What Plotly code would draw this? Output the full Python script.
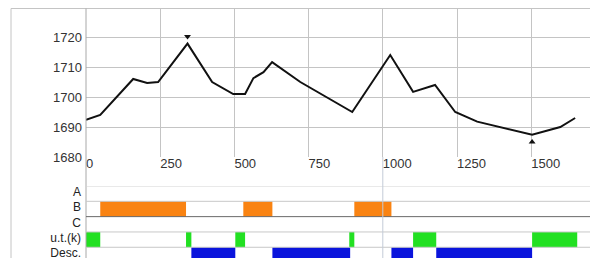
import plotly.graph_objects as go

# ---- data ----
dist = [0, 48, 159, 206, 243, 342, 425, 459, 496, 536, 564, 598, 627, 722,
        897, 1025, 1102, 1176, 1244, 1318, 1406, 1503, 1598, 1648]
elev = [1692.4, 1694, 1706, 1704.7, 1705, 1717.8, 1705, 1703, 1701, 1701,
        1706.3, 1708.3, 1711.6, 1705, 1695, 1714, 1701.7, 1704, 1695,
        1691.8, 1689.8, 1687.4, 1690, 1693]

x_ticks = [0, 250, 500, 750, 1000, 1250, 1500]
y_ticks = [1680, 1690, 1700, 1710, 1720]

row_labels = ["A", "B", "C", "u.t.(k)", "Desc."]
row_pos = [4, 3, 2, 1, 0]

b_start = [48, 530, 904]
b_end = [337, 628, 1029]
ut_start = [0, 337, 503, 887, 1102, 1503]
ut_end = [48, 355, 536, 904, 1180, 1655]
desc_start = [355, 628, 1029, 1180]
desc_end = [503, 890, 1102, 1503]

cursor_x = 1000

# ---- layout constants (page body has an 8px margin) ----
OFF = 8
W, H = 598 - OFF, 258 - OFF
FONT = "Liberation Sans, Arial, sans-serif"


def px_x(X):
    return (X - OFF) / W


def px_y(Y):
    return (H - (Y - OFF)) / H


x_left = px_x(86)
prof_dom = [px_y(157), px_y(8.5)]
band_dom = [0, px_y(186)]
x_range = [0, 1725]
marker_gap = 2.4

fig = go.Figure()

# elevation profile
fig.add_trace(go.Scatter(x=dist, y=elev, mode="lines",
                         line=dict(color="#111111", width=2),
                         xaxis="x", yaxis="y", hoverinfo="skip"))
i_max = elev.index(max(elev))
i_min = elev.index(min(elev))
fig.add_trace(go.Scatter(x=[dist[i_max]], y=[elev[i_max] + marker_gap], mode="markers",
                         marker=dict(symbol="triangle-down", size=6, color="#111111"),
                         xaxis="x", yaxis="y"))
fig.add_trace(go.Scatter(x=[dist[i_min]], y=[elev[i_min] - marker_gap], mode="markers",
                         marker=dict(symbol="triangle-up", size=6, color="#111111"),
                         xaxis="x", yaxis="y"))


def band(starts, ends, row, color):
    fig.add_trace(go.Bar(x=[e - s for s, e in zip(starts, ends)], base=starts,
                         y=[row] * len(starts), orientation="h", width=1,
                         marker=dict(color=color, line=dict(width=0)),
                         xaxis="x2", yaxis="y2"))


band(b_start, b_end, 3, "#f98312")
band(ut_start, ut_end, 1, "#22e022")
band(desc_start, desc_end, 0, "#0a14dc")

shapes = []
# outer frame
shapes.append(dict(type="rect", xref="paper", yref="paper", x0=px_x(11), x1=1.2,
                   y0=-0.2, y1=px_y(8.5), line=dict(color="#c4c4c4", width=1),
                   layer="below"))
# left plot edge
shapes.append(dict(type="line", xref="paper", yref="paper", x0=x_left, x1=x_left,
                   y0=-0.1, y1=px_y(8.5), line=dict(color="#a8a8a8", width=1)))
# row separators
for yv, col in [(4.5, "#d4d4d4"), (3.5, "#c8c8c8"), (2.5, "#6a6a6a"),
                (1.5, "#c8c8c8"), (0.5, "#c8c8c8")]:
    shapes.append(dict(type="line", xref="paper", yref="y2", x0=x_left, x1=1.2,
                       y0=yv, y1=yv, line=dict(color=col, width=1)))
# cursor line through bands
shapes.append(dict(type="line", xref="x2", yref="paper", x0=cursor_x, x1=cursor_x,
                   y0=-0.1, y1=prof_dom[0], line=dict(color="#c4cbd8", width=1)))

fig.update_layout(
    width=W, height=H, margin=dict(l=0, r=0, t=0, b=0),
    paper_bgcolor="white", plot_bgcolor="white", showlegend=False,
    font=dict(family=FONT, size=13, color="#333333"),
    barmode="overlay", shapes=shapes,
    xaxis=dict(domain=[x_left, 1], range=x_range, anchor="y", automargin=False,
               tickvals=x_ticks, ticks="", ticklabelposition="outside right",
               ticklabelstandoff=-3,
               showgrid=True, gridcolor="#c4c4c4", gridwidth=1,
               zeroline=False, showline=False,
               tickfont=dict(size=13, color="#333333")),
    yaxis=dict(domain=prof_dom, range=[1680, 1729.5], anchor="x", automargin=False,
               tickvals=y_ticks, ticks="", showgrid=True, gridcolor="#c4c4c4",
               ticklabelstandoff=3,
               zeroline=False, showline=False,
               tickfont=dict(size=13, color="#333333")),
    xaxis2=dict(domain=[x_left, 1], range=x_range, anchor="y2", matches="x",
                automargin=False,
                showticklabels=False, showgrid=False, zeroline=False, ticks=""),
    yaxis2=dict(domain=band_dom, range=[-0.2, 4.5], anchor="x2", automargin=False,
                tickvals=row_pos, ticktext=row_labels, ticks="", ticklabelshift=-2,
                ticklabelstandoff=4, ticklabeloverflow="allow",
                showgrid=False, zeroline=False, showline=False,
                tickfont=dict(size=12, color="#222222")),
)

fig.write_html("out.html")
